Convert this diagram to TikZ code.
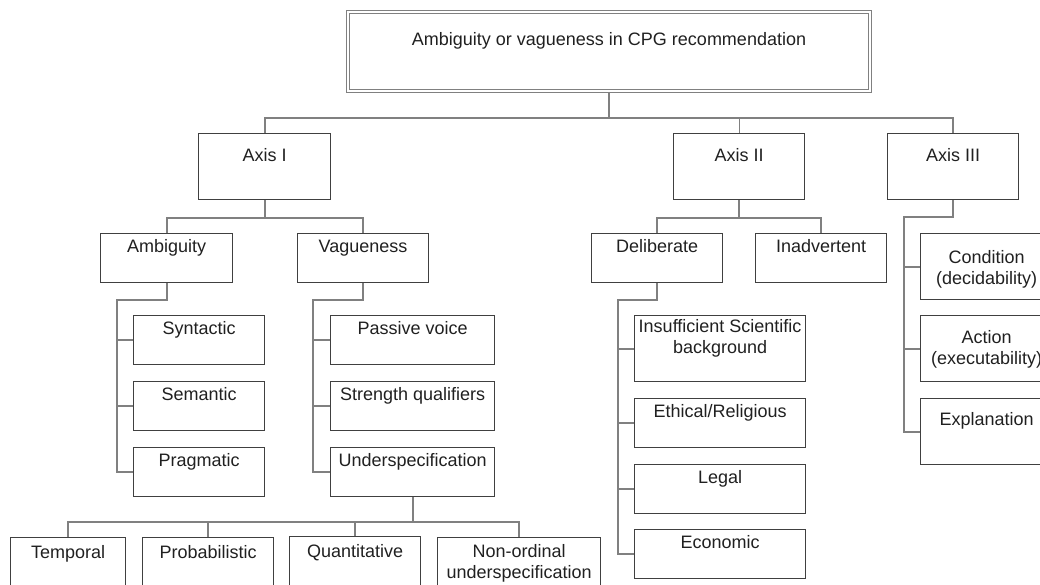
\documentclass[tikz,border=0pt]{standalone}
\usepackage{fontspec}
\setmainfont{Liberation Sans}
\definecolor{boxline}{HTML}{404040}
\definecolor{wire}{HTML}{808080}
\definecolor{ink}{HTML}{202020}
% width, height, first baseline, text
\newcommand{\boxlabel}[4]{\parbox[c][#2pt][t]{#1pt}{\centering\rule{0pt}{#3pt}#4}}
\begin{document}
\begin{tikzpicture}[x=1pt,y=-1pt,
  cat/.style={shape=rectangle,draw=boxline,line width=1.2pt,inner sep=0pt,anchor=north west,
    text=ink,font=\fontsize{18}{20.5}\selectfont},
  root/.style={cat,draw=wire,double=white,double distance=2pt,line width=1pt},
  link/.style={draw=wire,line width=2.2pt},
  thinlink/.style={draw=wire,line width=1pt}]
\useasboundingbox (0,0) rectangle (1040,585);
\clip (0,0) rectangle (1040,585);
\node(root) [root] at (347.5,12) {\boxlabel{522}{79}{33}{Ambiguity or vagueness in CPG recommendation}};
% axes
\node(axisI) [cat] at (198,133) {\boxlabel{132}{66}{28}{Axis I}};
\node(axisII) [cat] at (673,133) {\boxlabel{131}{66}{28}{Axis II}};
\node(axisIII) [cat] at (887,133) {\boxlabel{131}{66}{28}{Axis III}};
% second level
\node(ambig) [cat] at (100,233) {\boxlabel{132}{49}{19}{Ambiguity}};
\node(vague) [cat] at (297,233) {\boxlabel{131}{49}{19}{Vagueness}};
\node(delib) [cat] at (591,233) {\boxlabel{131}{49}{19}{Deliberate}};
\node(inadv) [cat] at (755,233) {\boxlabel{131}{49}{19}{Inadvertent}};
\node(cond) [cat] at (920,233) {\boxlabel{132}{66}{30}{Condition\\(decidability)}};
\node(action) [cat] at (920,315) {\boxlabel{132}{66}{28}{Action\\(executability)}};
\node(expl) [cat] at (920,398) {\boxlabel{132}{66}{27}{Explanation}};
% third level
\node(syn) [cat] at (133,315) {\boxlabel{131}{49}{19}{Syntactic}};
\node(sem) [cat] at (133,381) {\boxlabel{131}{49}{19}{Semantic}};
\node(prag) [cat] at (133,447) {\boxlabel{131}{49}{19}{Pragmatic}};
\node(passive) [cat] at (330,315) {\boxlabel{164}{49}{19}{Passive voice}};
\node(strength) [cat] at (330,381) {\boxlabel{164}{49}{19}{Strength qualifiers}};
\node(under) [cat] at (330,447) {\boxlabel{164}{49}{19}{Underspecification}};
\node(insuf) [cat] at (634,315) {\boxlabel{171}{66}{17}{\makebox[\linewidth]{Insufficient Scientific}\\background}};
\node(ethic) [cat] at (634,398) {\boxlabel{171}{49}{19}{Ethical/Religious}};
\node(legal) [cat] at (634,464) {\boxlabel{171}{49}{19}{Legal}};
\node(econ) [cat] at (634,529) {\boxlabel{171}{49}{19}{Economic}};
% fourth level
\node(temporal) [cat] at (10,537) {\boxlabel{115}{66}{21}{Temporal}};
\node(prob) [cat] at (142,537) {\boxlabel{131}{66}{21}{Probabilistic}};
\node(quant) [cat] at (289,536) {\boxlabel{131}{66}{21}{Quantitative}};
\node(nonord) [cat] at (437,537) {\boxlabel{163}{66}{20}{Non-ordinal\\underspecification}};
% connectors
\draw [link] (root.south) -- ++(0,26) coordinate (bus);
\draw [link] (axisI.north) |- (bus) -| (axisIII.north);
\draw [thinlink] (axisII.north) -- (axisII.north |- bus);
\draw [link] (axisI.south) -- ++(0,18) coordinate (busI);
\draw [link] (ambig.north) |- (busI) -| (vague.north);
\draw [link] (axisII.south) -- ++(0,18) coordinate (busII);
\draw [link] (delib.north) |- (busII) -| (inadv.north);
\draw [link] (axisIII.south) -- ++(0,17) -| ([xshift=-16pt]expl.west) -- (expl.west);
\draw [link] (cond.west) -- ++(-16,0);
\draw [link] (action.west) -- ++(-16,0);
\draw [link] (ambig.south) -- ++(0,17) -| ([xshift=-16pt]prag.west) -- (prag.west);
\draw [link] (syn.west) -- ++(-16,0);
\draw [link] (sem.west) -- ++(-16,0);
\draw [link] (vague.south) -- ++(0,17) -| ([xshift=-17pt]under.west) -- (under.west);
\draw [link] (passive.west) -- ++(-17,0);
\draw [link] (strength.west) -- ++(-17,0);
\draw [link] (delib.south) -- ++(0,17) -| ([xshift=-16pt]econ.west) -- (econ.west);
\draw [link] (insuf.west) -- ++(-16,0);
\draw [link] (ethic.west) -- ++(-16,0);
\draw [link] (legal.west) -- ++(-16,0);
\draw [link] (under.south) -- ++(0,25) coordinate (busU);
\draw [link] (temporal.north) |- (busU) -| (nonord.north);
\draw [link] (prob.north) -- (prob.north |- busU);
\draw [link] (quant.north) -- (quant.north |- busU);
\end{tikzpicture}
\end{document}
